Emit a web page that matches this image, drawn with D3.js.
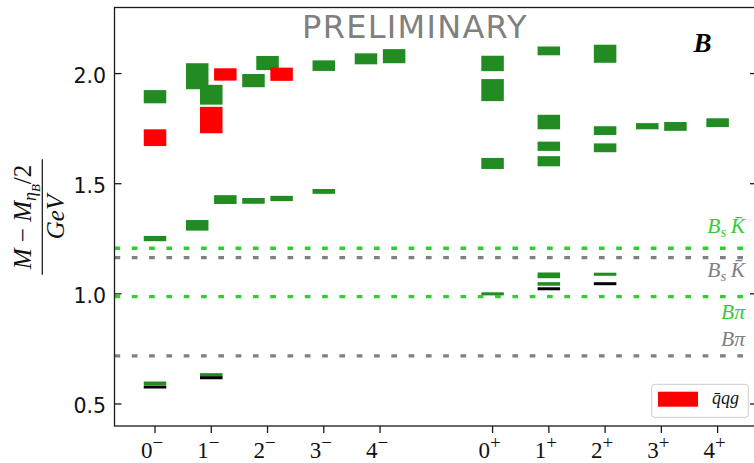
<!DOCTYPE html>
<html>
<head>
<meta charset="utf-8">
<script src="https://cdn.jsdelivr.net/npm/d3@7"></script>
<style>
  html, body { margin: 0; padding: 0; background: #fff; }
  svg { display: block; }
</style>
</head>
<body>
<svg id="chart" width="754" height="463"></svg>
<script>
// x tick positions: J^P states, negative parity 0..4, positive parity at 6..10
const tickPos = [0, 1, 2, 3, 4, 6, 7, 8, 9, 10]
const tickSpin = ["0", "1", "2", "3", "4", "0", "1", "2", "3", "4"]
const tickParity = ["−", "−", "−", "−", "−", "+", "+", "+", "+", "+"]
const yTicks = [0.5, 1.0, 1.5, 2.0]

// ordinary states (green boxes): position, mass, half error
const greenX = [0, 0, 0, 0.75, 1, 0.75, 1.25, 1, 1.75, 2, 1.75, 2.25, 3, 3, 3.75, 4.25,
  6, 6, 6, 6, 7, 7, 7, 7, 7, 7, 8, 8, 8, 8, 8.75, 9.25, 10]
const greenMass = [1.895, 1.251, 0.594, 1.988, 1.904, 1.311, 1.428, 0.632, 1.968, 2.048, 1.422, 1.433, 2.036, 1.465, 2.067, 2.079,
  2.046, 1.925, 1.592, 1.000, 2.103, 1.780, 1.670, 1.602, 1.084, 1.045, 2.090, 1.741, 1.663, 1.089, 1.761, 1.760, 1.777]
const greenErr = [0.030, 0.012, 0.008, 0.059, 0.045, 0.024, 0.020, 0.008, 0.030, 0.032, 0.013, 0.012, 0.024, 0.011, 0.025, 0.032,
  0.035, 0.050, 0.025, 0.007, 0.020, 0.033, 0.021, 0.023, 0.013, 0.008, 0.041, 0.020, 0.020, 0.007, 0.014, 0.020, 0.020]

// hybrid states (red boxes)
const redX = [0, 1, 1.25, 2.25]
const redMass = [1.709, 1.789, 1.996, 1.997]
const redErr = [0.038, 0.060, 0.028, 0.030]

// experimental values (black lines)
const expX = [0, 1, 7, 8]
const expMass = [0.577, 0.619, 1.023, 1.046]

// two-meson thresholds
const thrMass = [1.207, 1.164, 0.987, 0.718]
const thrKind = ["BsK", "BsK", "Bpi", "Bpi"]
const thrSet = ["a", "b", "a", "b"]

const svg = d3.select("#chart")
const pLeft = 114.5, pRight = 757, pTop = 7.5, pBottom = 426
const x = d3.scaleLinear().domain([-0.72, 10.7]).range([pLeft, pRight])
const y = d3.scaleLinear().domain([0.4, 2.3]).range([pBottom, pTop])
const halfW = 0.2

const plot = svg.append("g")

function boxes(xs, ms, es, color) {
  plot.append("g")
    .selectAll("rect")
    .data(xs.map((d, i) => ({ x: d, m: ms[i], e: es[i] })))
    .enter()
    .append("rect")
    .attr("x", d => x(d.x - halfW))
    .attr("width", d => x(d.x + halfW) - x(d.x - halfW))
    .attr("y", d => y(d.m + d.e))
    .attr("height", d => y(d.m - d.e) - y(d.m + d.e))
    .attr("fill", color)
}
boxes(greenX, greenMass, greenErr, "#228b22")
boxes(redX, redMass, redErr, "#ff0000")

plot.append("g")
  .selectAll("line")
  .data(expX.map((d, i) => ({ x: d, m: expMass[i] })))
  .enter()
  .append("line")
  .attr("x1", d => x(d.x - halfW))
  .attr("x2", d => x(d.x + halfW))
  .attr("y1", d => y(d.m))
  .attr("y2", d => y(d.m))
  .attr("stroke", "#000")
  .attr("stroke-width", 3)

// threshold lines
const thrColor = { a: "#33cc33", b: "#808080" }
plot.append("g")
  .selectAll("line")
  .data(thrMass)
  .enter()
  .append("line")
  .attr("x1", pLeft)
  .attr("x2", pRight)
  .attr("y1", d => y(d))
  .attr("y2", d => y(d))
  .attr("stroke", (d, i) => thrColor[thrSet[i]])
  .attr("stroke-width", 3.3)
  .attr("stroke-dasharray", "5.7,11.6")

// threshold labels
const labelDy = [-15, 19, 22.6, -9.5]
thrMass.forEach((m, i) => {
  const t = svg.append("text")
    .attr("x", 745)
    .attr("y", y(m) + labelDy[i])
    .attr("text-anchor", "end")
    .attr("font-family", "Liberation Serif")
    .attr("font-style", "italic")
    .attr("font-size", 21.5)
    .attr("fill", thrColor[thrSet[i]])
  if (thrKind[i] === "BsK") {
    t.append("tspan").text("B")
    t.append("tspan").attr("font-size", 15).attr("dy", 4).text("s")
    t.append("tspan").attr("dy", -4).text("\u2009K\u0304")
  } else {
    t.append("tspan").text("Bπ")
  }
})

// frame
const frame = svg.append("g").attr("stroke", "#1a1a1a").attr("stroke-width", 1.3).attr("fill", "none")
frame.append("rect").attr("x", pLeft).attr("y", pTop).attr("width", pRight - pLeft).attr("height", pBottom - pTop)

// y ticks (inward on both sides)
yTicks.forEach(v => {
  frame.append("line").attr("x1", pLeft).attr("x2", pLeft + 7).attr("y1", y(v)).attr("y2", y(v))
  frame.append("line").attr("x1", pRight - 7).attr("x2", pRight).attr("y1", y(v)).attr("y2", y(v))
  svg.append("text")
    .attr("x", 106)
    .attr("y", y(v) + 9)
    .attr("text-anchor", "end")
    .attr("font-family", "DejaVu Sans")
    .attr("font-size", 20.5)
    .attr("fill", "#111")
    .text(v.toFixed(1))
})

// x ticks (outward)
tickPos.forEach((p, i) => {
  frame.append("line").attr("x1", x(p)).attr("x2", x(p)).attr("y1", pBottom).attr("y2", pBottom + 7)
  const t = svg.append("text")
    .attr("x", x(p) - 3)
    .attr("y", 457.5)
    .attr("text-anchor", "middle")
    .attr("font-family", "Liberation Serif")
    .attr("font-size", 23)
    .attr("fill", "#111")
  t.append("tspan").text(tickSpin[i])
  t.append("tspan").attr("dy", -9).attr("font-size", 19).text(tickParity[i])
})

// y label as a fraction
const yl = svg.append("g")
  .attr("transform", "translate(0,217) rotate(-90)")
  .attr("font-family", "Liberation Serif")
  .attr("fill", "#111")
const num = yl.append("text")
  .attr("x", 0).attr("y", 31)
  .attr("text-anchor", "middle")
  .attr("font-size", 25)
num.append("tspan").attr("font-style", "italic").text("M")
num.append("tspan").text(" − ")
num.append("tspan").attr("font-style", "italic").text("M")
num.append("tspan").attr("font-style", "italic").attr("font-size", 18).attr("dy", 5).text("η")
num.append("tspan").attr("font-style", "italic").attr("font-size", 13).attr("dy", 4).text("B")
num.append("tspan").attr("dy", -9).text("/2")
yl.append("line")
  .attr("x1", -57.8).attr("x2", 57.8)
  .attr("y1", 42.3).attr("y2", 42.3)
  .attr("stroke", "#111").attr("stroke-width", 1.2)
yl.append("text")
  .attr("x", 0).attr("y", 64)
  .attr("text-anchor", "middle")
  .attr("font-size", 25)
  .attr("font-style", "italic")
  .text("GeV")

// watermark and panel label
svg.append("text")
  .attr("x", 415).attr("y", 38.3)
  .attr("text-anchor", "middle")
  .attr("font-family", "DejaVu Sans")
  .attr("font-size", 32)
  .attr("letter-spacing", 1.3)
  .attr("fill", "#808080")
  .text("PRELIMINARY")

svg.append("text")
  .attr("x", 702.5).attr("y", 52.3)
  .attr("text-anchor", "middle")
  .attr("font-family", "Liberation Serif")
  .attr("font-weight", "bold")
  .attr("font-style", "italic")
  .attr("font-size", 27)
  .attr("fill", "#000")
  .text("B")

// legend
const lg = svg.append("g")
lg.append("rect")
  .attr("x", 651.7).attr("y", 384.3).attr("width", 96.6).attr("height", 33).attr("rx", 3)
  .attr("fill", "#fff").attr("fill-opacity", 0.8).attr("stroke", "#cccccc").attr("stroke-width", 1)
lg.append("rect")
  .attr("x", 658).attr("y", 391.7).attr("width", 40).attr("height", 15)
  .attr("fill", "#ff0000")
lg.append("text")
  .attr("x", 712).attr("y", 404)
  .attr("font-family", "Liberation Serif")
  .attr("font-style", "italic")
  .attr("font-size", 18)
  .attr("fill", "#111")
  .text("q\u0304qg")
</script>
</body>
</html>
